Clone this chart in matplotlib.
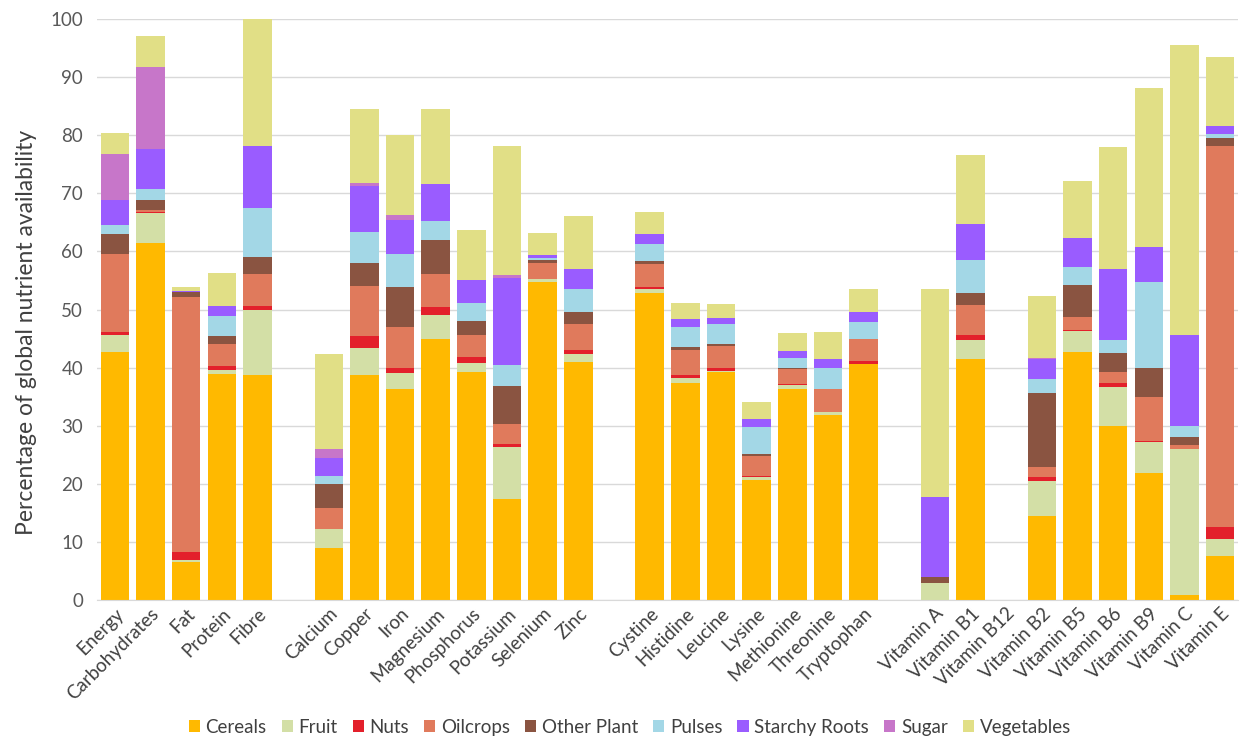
import matplotlib.pyplot as plt
import numpy as np

plt.rcParams['font.family'] = ['Lato', 'DejaVu Sans']

# Categories ('' = gap between groups)
categories = ['Energy', 'Carbohydrates', 'Fat', 'Protein', 'Fibre', '',
              'Calcium', 'Copper', 'Iron', 'Magnesium', 'Phosphorus', 'Potassium', 'Selenium', 'Zinc', '',
              'Cystine', 'Histidine', 'Leucine', 'Lysine', 'Methionine', 'Threonine', 'Tryptophan', '',
              'Vitamin A', 'Vitamin B1', 'Vitamin B12', 'Vitamin B2', 'Vitamin B5', 'Vitamin B6',
              'Vitamin B9', 'Vitamin C', 'Vitamin E']

cereals = [42.7, 61.5, 6.6, 38.9, 38.7, 0,
           9.0, 38.8, 36.4, 44.9, 39.3, 17.4, 54.8, 41.0, 0,
           52.8, 37.3, 39.3, 20.7, 36.4, 31.8, 40.6, 0,
           0, 41.4, 0, 14.5, 42.7, 29.9, 21.9, 0.9, 7.6]
fruit = [2.9, 5.1, 0.3, 0.7, 11.2, 0,
         3.2, 4.5, 2.6, 4.2, 1.5, 9.0, 0.4, 1.3, 0,
         0.7, 0.9, 0.2, 0.5, 0.6, 0.5, 0.1, 0,
         3.0, 3.3, 0, 5.9, 3.6, 6.7, 5.3, 25.1, 2.9]
nuts = [0.6, 0.1, 1.4, 0.6, 0.7, 0,
        0, 2.2, 0.9, 1.3, 1.0, 0.5, 0, 0.8, 0,
        0.4, 0.6, 0.4, 0.1, 0.1, 0.1, 0.5, 0,
        0, 0.9, 0, 0.7, 0.1, 0.7, 0.1, 0, 2.1]
oilcrops = [13.3, 0.5, 43.8, 3.9, 5.5, 0,
            3.6, 8.5, 7.1, 5.7, 3.9, 3.4, 2.8, 4.4, 0,
            4.0, 4.3, 3.8, 3.5, 2.7, 3.9, 3.7, 0,
            0, 5.2, 0, 1.8, 2.3, 2.0, 7.7, 0.6, 65.5]
other_plant = [3.5, 1.7, 0.9, 1.4, 3.0, 0,
               4.2, 4.0, 6.8, 5.9, 2.3, 6.6, 0.6, 2.1, 0,
               0.5, 0.4, 0.4, 0.3, 0.2, 0.1, 0.1, 0,
               1.0, 2.0, 0, 12.7, 5.5, 3.2, 5.0, 1.5, 1.4]
pulses = [1.5, 1.9, 0.1, 3.4, 8.4, 0,
          1.3, 5.4, 5.7, 3.2, 3.1, 3.5, 0.2, 3.9, 0,
          2.8, 3.5, 3.4, 4.6, 1.6, 3.5, 2.8, 0,
          0, 5.7, 0, 2.4, 3.1, 2.2, 14.8, 1.8, 0.7]
starchy_roots = [4.3, 6.9, 0.1, 1.7, 10.6, 0,
                 3.1, 7.9, 5.9, 6.4, 4.0, 15.0, 0.5, 3.5, 0,
                 1.8, 1.3, 1.1, 1.5, 1.3, 1.5, 1.8, 0,
                 13.7, 6.2, 0, 3.4, 5.0, 12.3, 5.9, 15.8, 1.4]
sugar = [8.0, 14.0, 0, 0, 0, 0,
         1.6, 0.4, 0.9, 0, 0, 0.5, 0, 0, 0,
         0, 0, 0, 0, 0, 0, 0, 0,
         0, 0, 0, 0.3, 0, 0, 0, 0, 0]
vegetables = [3.5, 5.4, 0.6, 5.7, 21.9, 0,
              16.3, 12.8, 13.7, 12.9, 8.6, 22.3, 3.8, 9.1, 0,
              3.7, 2.8, 2.3, 2.8, 3.1, 4.8, 3.9, 0,
              35.8, 11.9, 0, 10.6, 9.9, 21.0, 27.4, 49.9, 11.9]

series = [('Cereals', cereals, '#FFB900'),
          ('Fruit', fruit, '#D3DFA6'),
          ('Nuts', nuts, '#E3202B'),
          ('Oilcrops', oilcrops, '#E07A5C'),
          ('Other Plant', other_plant, '#8A5441'),
          ('Pulses', pulses, '#A3D7E6'),
          ('Starchy Roots', starchy_roots, '#9A5CFF'),
          ('Sugar', sugar, '#C776C9'),
          ('Vegetables', vegetables, '#E1DF86')]

fig = plt.figure(figsize=(12.47, 7.52), dpi=100)
ax = fig.add_axes([0.0778, 0.2021, 0.915, 0.7726])

x = np.arange(len(categories))
bottom = np.zeros(len(categories))
for name, vals, col in series:
    vals = np.array(vals)
    ax.bar(x, vals, 0.8, bottom=bottom, color=col, label=name, zorder=2)
    bottom += vals

ax.set_xlim(-0.5, len(categories) - 0.5)
ax.set_ylim(0, 100)
ax.set_yticks(np.arange(0, 101, 10))
ax.grid(axis='y', color='#D9D9D9', linewidth=1, zorder=0)
for s in ['top', 'right', 'left']:
    ax.spines[s].set_visible(False)
ax.spines['bottom'].set_color('#D9D9D9')
ax.tick_params(axis='both', length=0, colors='#404040', labelsize=13.5)
ax.tick_params(axis='y', pad=10, colors='#595959')
ax.set_xticks(x)
ax.set_xticklabels(categories, rotation=45, ha='right', rotation_mode='anchor')
ax.set_ylabel('Percentage of global nutrient availability', fontsize=16.5, color='#404040')
ax.yaxis.set_label_coords(-0.053, 0.46)

fig.legend(loc='center', bbox_to_anchor=(0.505, 0.033), ncol=9, frameon=False,
           fontsize=13.5, handlelength=0.6, handleheight=0.6, handletextpad=0.3,
           columnspacing=0.8, labelcolor='#404040')

plt.savefig('out.png')
